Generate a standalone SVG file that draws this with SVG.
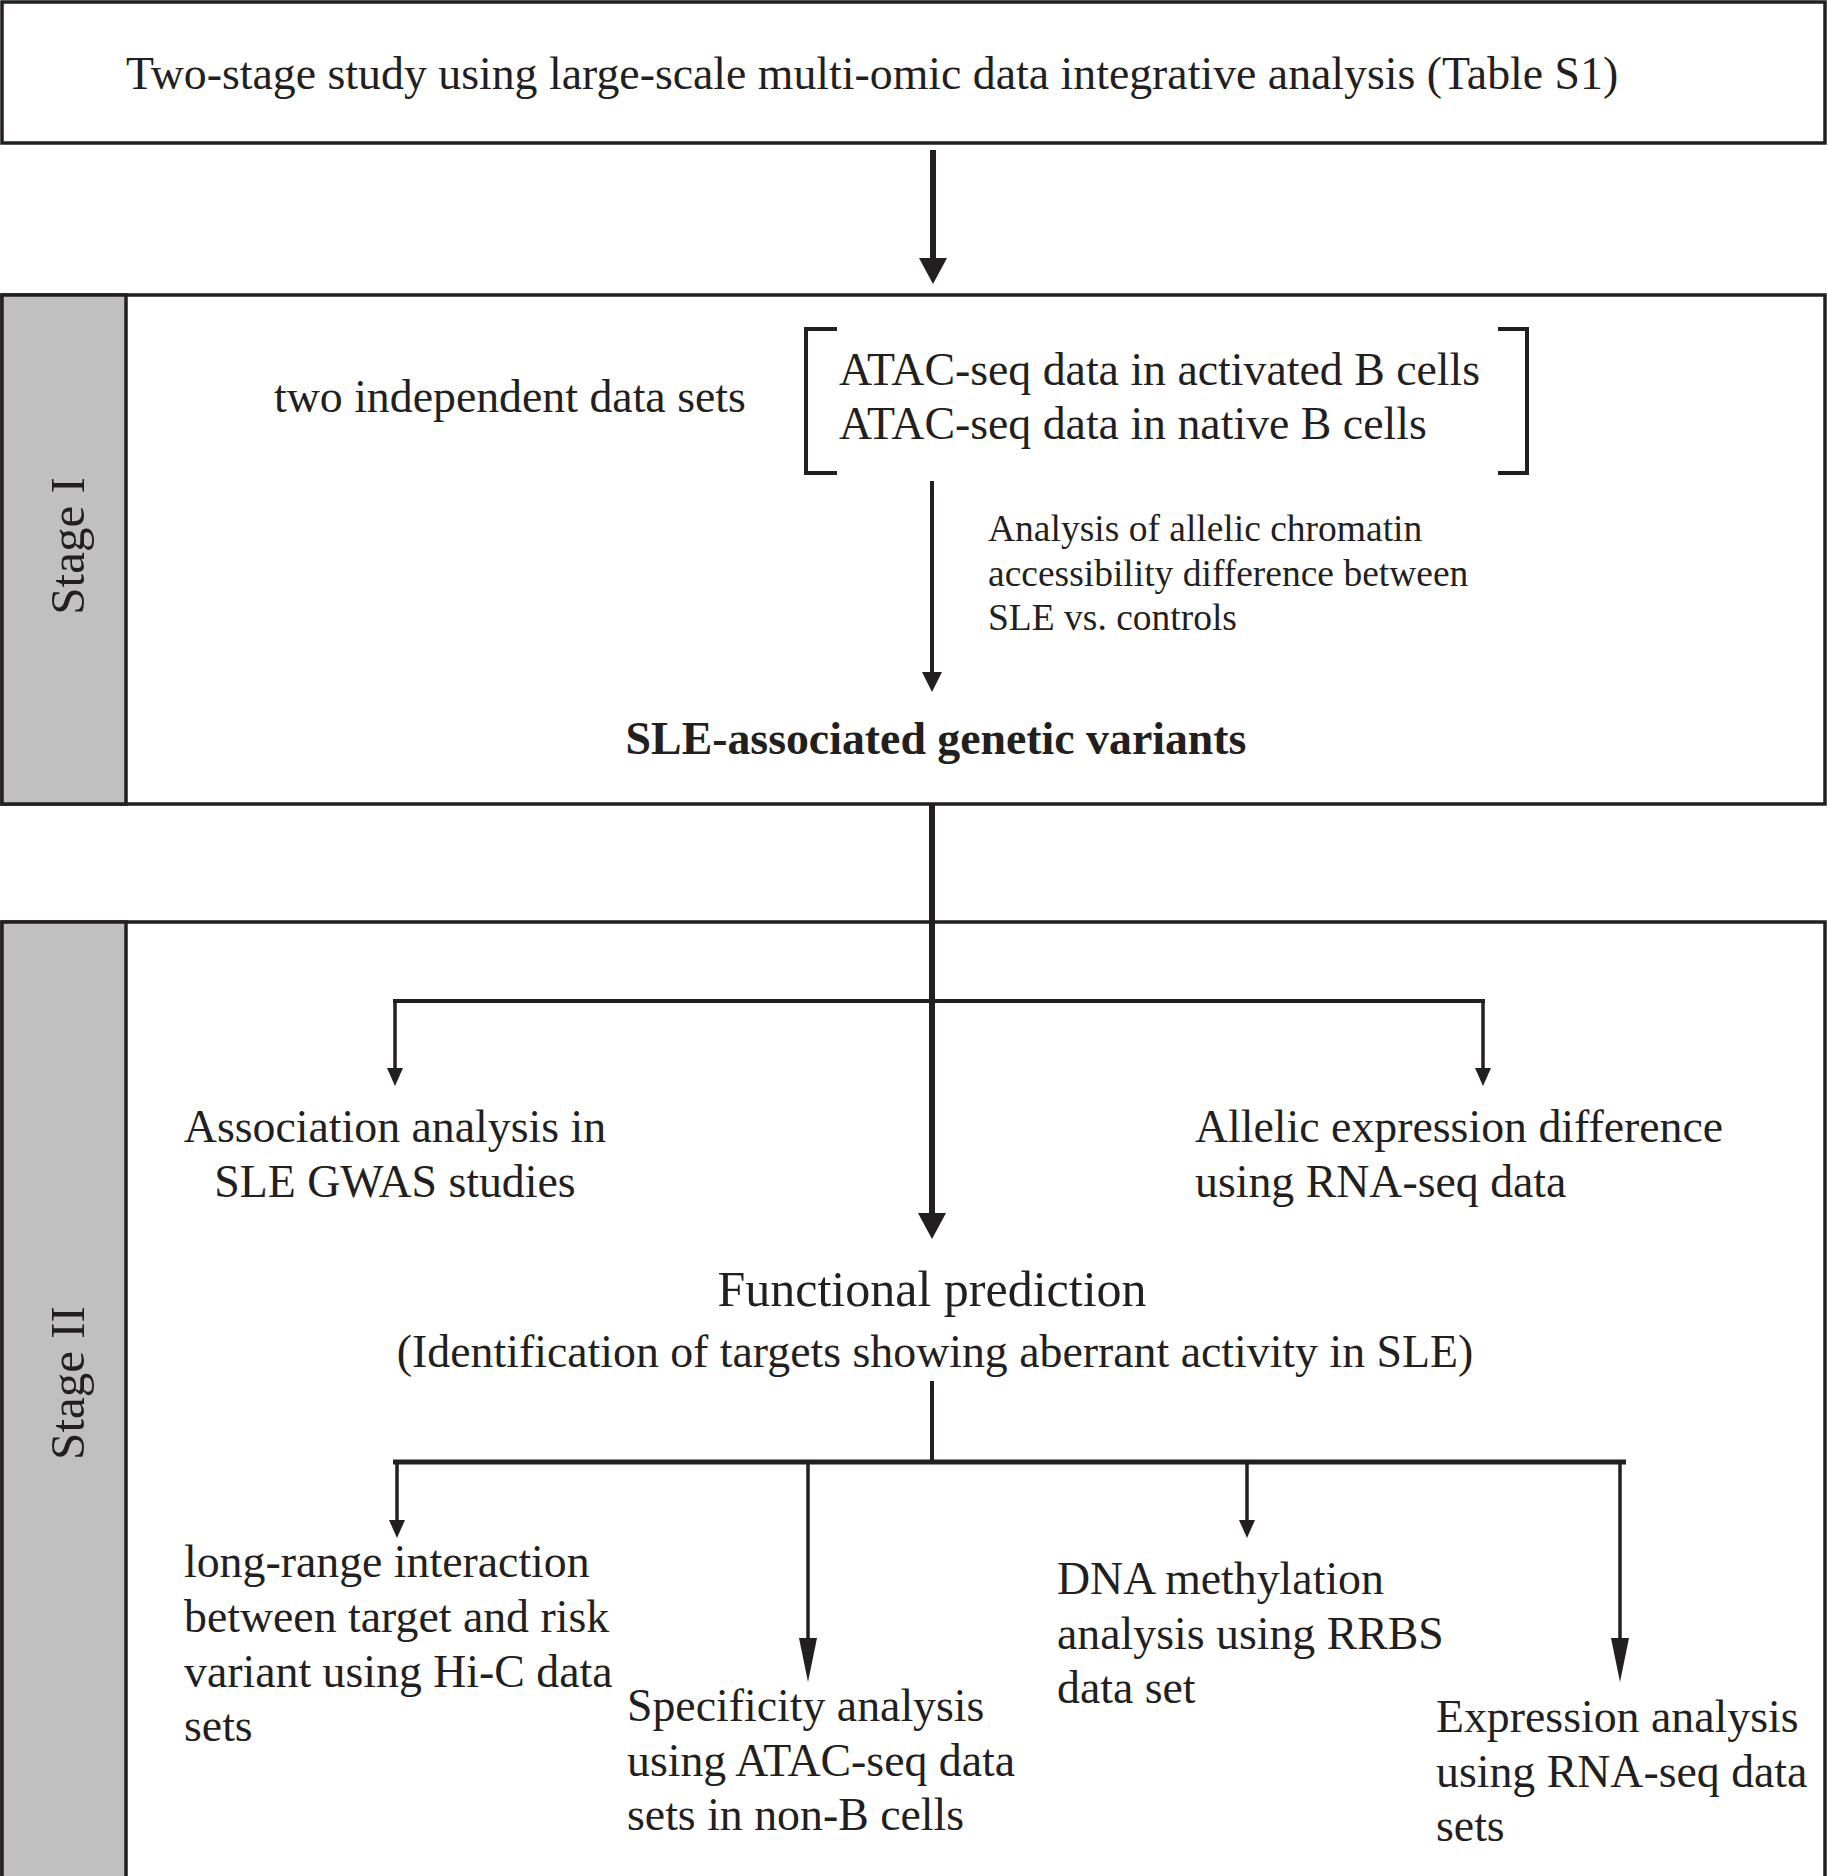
<svg xmlns="http://www.w3.org/2000/svg" width="1828" height="1876" viewBox="0 0 1828 1876">
<style>
text{font-family:"Liberation Serif","Times New Roman",serif;fill:#231f20;font-size:45.8px}
.sm{font-size:37.5px}
.b{font-weight:bold}
.st{font-size:49px}
.fp{font-size:50px}
.box{fill:#fff;stroke:#231f20;stroke-width:3.5}
.side{fill:#c0c0c0;stroke:#231f20;stroke-width:3.5}
.ln{stroke:#231f20;fill:none}
.ah{fill:#231f20}
</style>
<defs>
<marker id="ahL" markerUnits="userSpaceOnUse" markerWidth="26" markerHeight="28" viewBox="0 0 26 28" refX="0" refY="14" orient="auto"><path class="ah" d="M0,0 L26,14 L0,28 z"/></marker>
<marker id="ahM" markerUnits="userSpaceOnUse" markerWidth="20" markerHeight="20" viewBox="0 0 20 20" refX="0" refY="10" orient="auto"><path class="ah" d="M0,0 L20,10 L0,20 z"/></marker>
<marker id="ahS" markerUnits="userSpaceOnUse" markerWidth="18" markerHeight="16" viewBox="0 0 18 16" refX="0" refY="8" orient="auto"><path class="ah" d="M0,0 L18,8 L0,16 z"/></marker>
<marker id="ahN" markerUnits="userSpaceOnUse" markerWidth="44" markerHeight="18" viewBox="0 0 44 18" refX="0" refY="9" orient="auto"><path class="ah" d="M0,0 L44,9 L0,18 z"/></marker>
</defs>

<g id="top">
<rect class="box" x="2" y="2" width="1823" height="141"/>
<text x="126" y="89">Two-stage study using large-scale multi-omic data integrative analysis (Table S1)</text>
</g>

<g id="stage1">
<rect class="box" x="2" y="295" width="1823" height="509"/>
<rect class="side" x="2" y="295" width="124" height="509"/>
<text class="st" transform="translate(84,546) rotate(-90)" text-anchor="middle">Stage I</text>
</g>

<g id="stage2">
<rect class="box" x="2" y="922" width="1823" height="960"/>
<rect class="side" x="2" y="922" width="124" height="960"/>
<text class="st" transform="translate(84,1383) rotate(-90)" text-anchor="middle">Stage II</text>
</g>

<g id="datasets">
<text x="274" y="412">two independent data sets</text>
<path class="ln" stroke-width="4" d="M837,329 H806 V473 H837"/>
<path class="ln" stroke-width="4" d="M1498,329 H1527 V473 H1498"/>
<text x="839" y="385">ATAC-seq data in activated B cells</text>
<text x="839" y="439">ATAC-seq data in native B cells</text>
</g>

<g id="analysis-label">
<text class="sm" x="988" y="541">Analysis of allelic chromatin</text>
<text class="sm" x="988" y="586">accessibility difference between</text>
<text class="sm" x="988" y="630">SLE vs. controls</text>
</g>

<g id="variants">
<text class="b" x="936" y="754" text-anchor="middle">SLE-associated genetic variants</text>
</g>

<g id="association">
<text x="395" y="1142" text-anchor="middle">Association analysis in</text>
<text x="395" y="1197" text-anchor="middle">SLE GWAS studies</text>
</g>

<g id="allelic">
<text x="1195" y="1142">Allelic expression difference</text>
<text x="1195" y="1197">using RNA-seq data</text>
</g>

<g id="functional">
<text class="fp" x="932" y="1306" text-anchor="middle">Functional prediction</text>
<text x="935" y="1367" text-anchor="middle">(Identification of targets showing aberrant activity in SLE)</text>
</g>

<g id="hic">
<text x="184" y="1577">long-range interaction</text>
<text x="184" y="1632">between target and risk</text>
<text x="184" y="1687">variant using Hi-C data</text>
<text x="184" y="1741">sets</text>
</g>

<g id="specificity">
<text x="627" y="1721">Specificity analysis</text>
<text x="627" y="1776">using ATAC-seq data</text>
<text x="627" y="1830">sets in non-B cells</text>
</g>

<g id="methylation">
<text x="1057" y="1594">DNA methylation</text>
<text x="1057" y="1649">analysis using RRBS</text>
<text x="1057" y="1703">data set</text>
</g>

<g id="expression">
<text x="1436" y="1732">Expression analysis</text>
<text x="1436" y="1787">using RNA-seq data</text>
<text x="1436" y="1841">sets</text>
</g>

<g id="connectors">
<line class="ln" stroke-width="6" x1="933" y1="150" x2="933" y2="258" marker-end="url(#ahL)"/>
<line class="ln" stroke-width="4" x1="932" y1="481" x2="932" y2="672" marker-end="url(#ahM)"/>
<line class="ln" stroke-width="6" x1="932" y1="803" x2="932" y2="1213" marker-end="url(#ahL)"/>
<line class="ln" stroke-width="4" x1="393" y1="1001" x2="1485" y2="1001"/>
<line class="ln" stroke-width="3.5" x1="395" y1="999" x2="395" y2="1068" marker-end="url(#ahS)"/>
<line class="ln" stroke-width="3.5" x1="1483" y1="999" x2="1483" y2="1068" marker-end="url(#ahS)"/>
<line class="ln" stroke-width="4" x1="932" y1="1381" x2="932" y2="1462"/>
<line class="ln" stroke-width="5" x1="393" y1="1462" x2="1626" y2="1462"/>
<line class="ln" stroke-width="3.5" x1="397" y1="1460" x2="397" y2="1520" marker-end="url(#ahS)"/>
<line class="ln" stroke-width="3.5" x1="1247" y1="1460" x2="1247" y2="1520" marker-end="url(#ahS)"/>
<line class="ln" stroke-width="3.5" x1="808" y1="1460" x2="808" y2="1638" marker-end="url(#ahN)"/>
<line class="ln" stroke-width="3.5" x1="1620" y1="1460" x2="1620" y2="1638" marker-end="url(#ahN)"/>
</g>
</svg>
